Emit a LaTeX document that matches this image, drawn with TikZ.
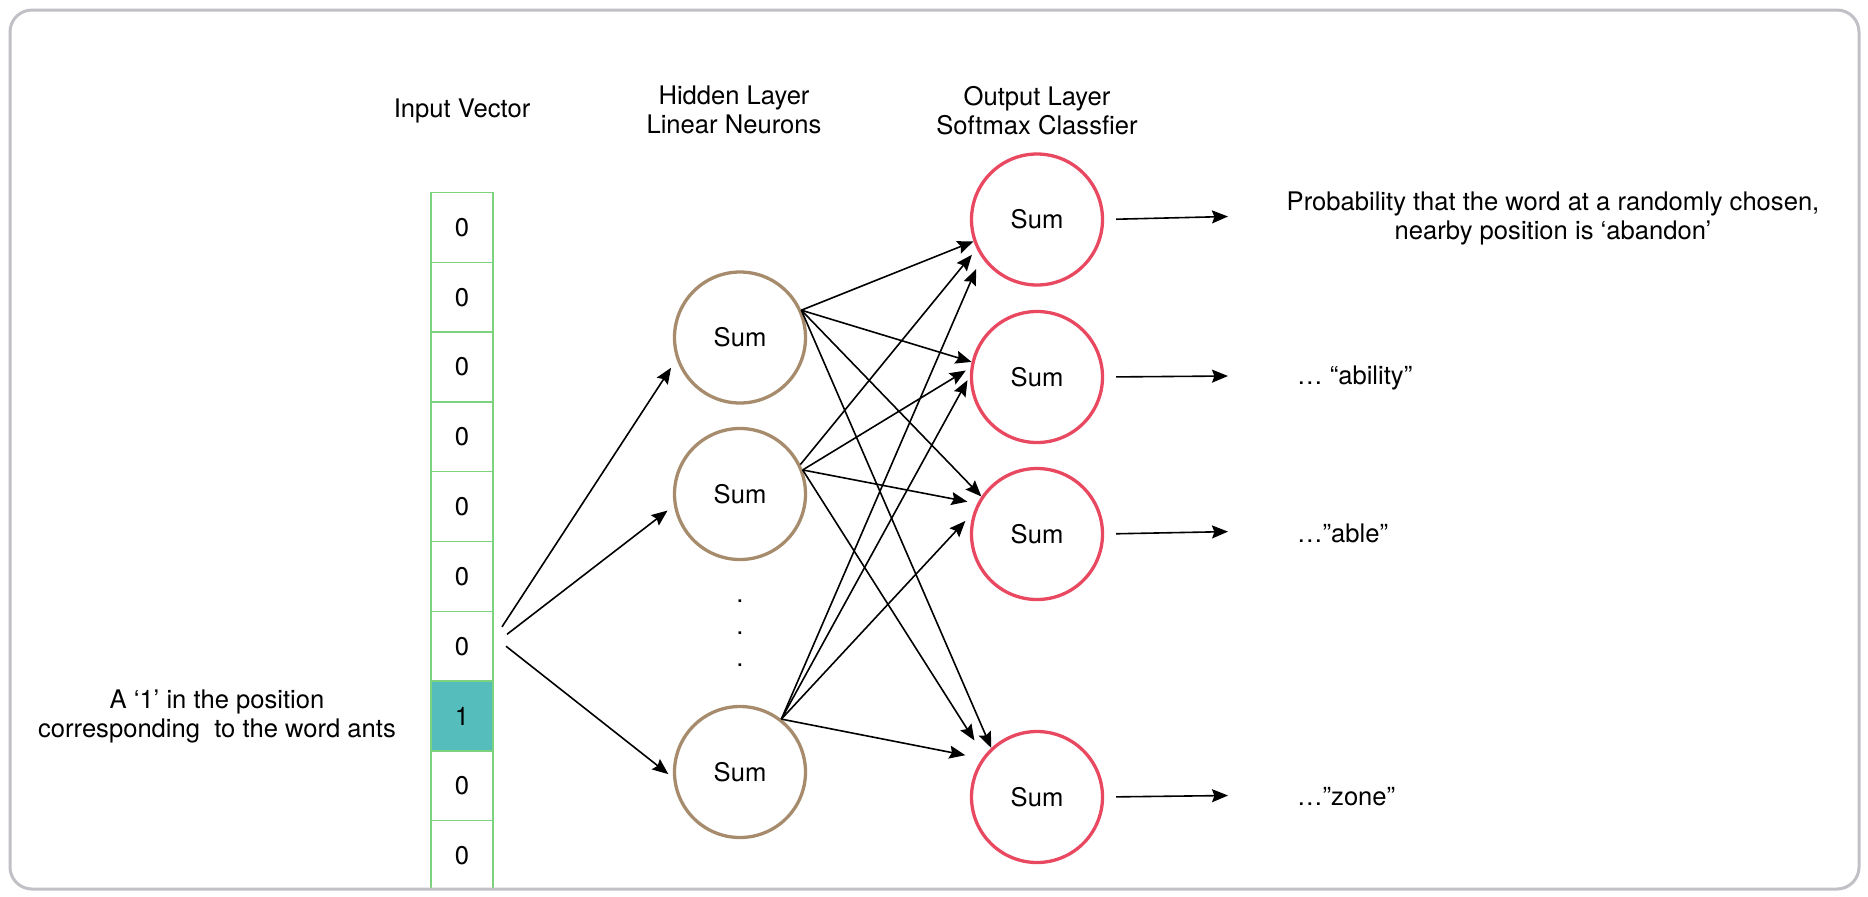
\documentclass[tikz,border=0pt]{standalone}
\usepackage{fontspec}
\setmainfont{TeX Gyre Heros}
\usetikzlibrary{arrows.meta}
\definecolor{framegray}{RGB}{192,192,198}
\definecolor{cellgreen}{RGB}{125,210,125}
\definecolor{hotteal}{RGB}{86,189,189}
\definecolor{hidbrown}{RGB}{166,140,108}
\definecolor{outred}{RGB}{232,72,96}

\begin{document}
\begin{tikzpicture}[x=0.5pt, y=-0.5pt,
  every node/.style={font=\fontsize{12.8}{14.5}\selectfont},
  vcell/.style={draw=cellgreen, line width=0.75pt, minimum width=31pt, minimum height=34.9pt, inner sep=0pt, outer sep=0pt},
  hotcell/.style={vcell, fill=hotteal},
  hnode/.style={circle, draw=hidbrown, line width=1.65pt, minimum size=65.5pt, inner sep=0pt},
  onode/.style={circle, draw=outred, line width=1.65pt, minimum size=65.5pt, inner sep=0pt},
  conn/.style={-{Stealth[length=8pt, width=6.5pt, inset=1.2pt]}, line width=0.8pt},
  txt/.style={align=center}]

\useasboundingbox (0,0) rectangle (1868,896);

\coordinate (I1) at (462,227.4);
\coordinate (I2) at (462,297.2);
\coordinate (I3) at (462,367.0);
\coordinate (I4) at (462,436.8);
\coordinate (I5) at (462,506.6);
\coordinate (I6) at (462,576.4);
\coordinate (I7) at (462,646.2);
\coordinate (I8) at (462,716.0);
\coordinate (I9) at (462,785.8);
\coordinate (I10) at (462,855.6);
\coordinate (H1) at (740,337.5);
\coordinate (H2) at (740,494);
\coordinate (H3) at (740,772);
\coordinate (O1) at (1037,219.5);
\coordinate (O2) at (1037,377);
\coordinate (O3) at (1037,534);
\coordinate (O4) at (1037,797);
\coordinate (R1) at (1228,216.5);
\coordinate (R2) at (1228,376);
\coordinate (R3) at (1228,531.6);
\coordinate (R4) at (1228,795.5);

% input vector, cut off by the frame
\begin{scope}
\clip (0,0) rectangle (1868,888);
\node [vcell] (in1) at (I1) {0};
\node [vcell] (in2) at (I2) {0};
\node [vcell] (in3) at (I3) {0};
\node [vcell] (in4) at (I4) {0};
\node [vcell] (in5) at (I5) {0};
\node [vcell] (in6) at (I6) {0};
\node [vcell] (in7) at (I7) {0};
\node [hotcell] (in8) at (I8) {1};
\node [vcell] (in9) at (I9) {0};
\node [vcell] (in10) at (I10) {0};
\end{scope}

\node [hnode] (hid1) at (H1) {Sum};
\node [hnode] (hid2) at (H2) {Sum};
\node [hnode] (hid3) at (H3) {Sum};
\node [txt, font=\fontsize{12.8}{16}\selectfont] (hiddots) at (740,633) {.\\.\\.};

\node [onode] (out1) at (O1) {Sum};
\node [onode] (out2) at (O2) {Sum};
\node [onode] (out3) at (O3) {Sum};
\node [onode] (out4) at (O4) {Sum};

\draw [conn, shorten >=5pt] ([xshift=4.5pt]in7.32) -- (hid1.199);
\draw [conn, shorten >=4pt] ([xshift=7pt]in7.21) -- (hid2.190);
\draw [conn, shorten >=3pt] ([xshift=6.5pt]in7.east) -- (hid3.185);

\draw [conn] (hid1.24) -- (out1.199);
\draw [conn] (hid1.24) -- (out2.167);
\draw [conn] (hid1.24) -- (out3.146);
\draw [conn] (hid1.24) -- (out4.133);
\draw [conn, shorten >=3.75pt] (hid2.26) -- (out1.206);
\draw [conn, shorten >=2.75pt] (hid2.21) -- (out2.172);
\draw [conn, shorten >=5pt] (hid2.21) -- (out3.153);
\draw [conn, shorten >=9pt] (hid2.21) -- (out4.142);
\draw [conn, shorten >=6.5pt] (hid3.52) -- (out1.214);
\draw [conn, shorten >=2.5pt] (hid3.52) -- (out2.179);
\draw [conn, shorten >=6pt] (hid3.52) -- (out3.161);
\draw [conn, shorten >=8.5pt] (hid3.52) -- (out4.145);

\draw [conn, shorten <=6pt] (out1.east) -- (R1);
\draw [conn, shorten <=6pt] (out2.east) -- (R2);
\draw [conn, shorten <=6pt] (out3.east) -- (R3);
\draw [conn, shorten <=6pt] (out4.east) -- (R4);

\node [txt] (inlabel) at (462,111) {Input Vector};
\node [txt] (hidlabel) at (734,110) {Hidden Layer\\Linear Neurons};
\node [txt] (outlabel) at (1037,111) {Output Layer\\Softmax Classfier};
\node [txt] (onelabel) at (217,716) {A ‘1’ in the position\\corresponding\ \ to the word ants};
\node [txt] (problabel) at (1553,218) {Probability that the word at a randomly chosen,\\nearby position is ‘abandon’};
\node [anchor=west] (abilitylabel) at (1290,378) {… “ability”};
\node [anchor=west] (ablelabel) at (1290,533) {…”able”};
\node [anchor=west] (zonelabel) at (1290,797) {…”zone”};

\draw [framegray, line width=1.5pt, rounded corners=11pt] (10,10) rectangle (1859,889);
\end{tikzpicture}
\end{document}
